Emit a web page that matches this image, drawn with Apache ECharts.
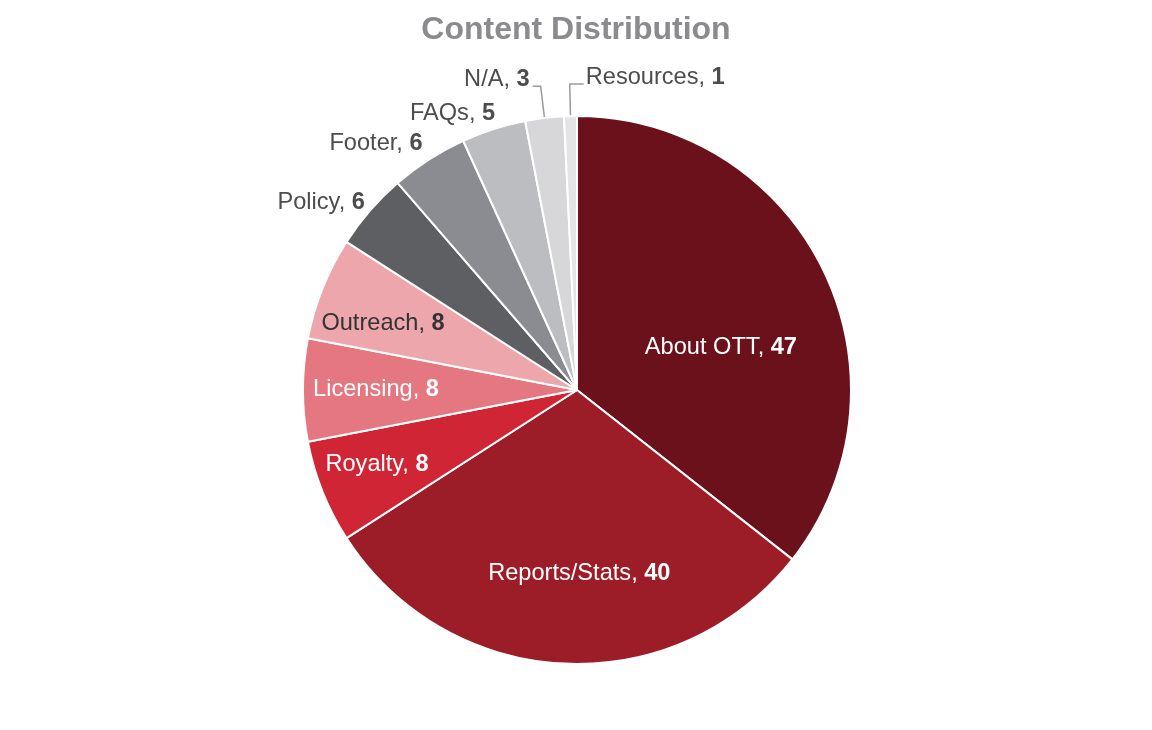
<!DOCTYPE html>
<html>
<head>
<meta charset="utf-8">
<script src="https://cdn.jsdelivr.net/npm/echarts@6/dist/echarts.min.js"></script>
<style>
  html, body { margin: 0; padding: 0; background: #fff; }
  #chart { width: 1152px; height: 730px; }
</style>
</head>
<body>
<div id="chart"></div>
<script>
var categories = ['About OTT', 'Reports/Stats', 'Royalty', 'Licensing', 'Outreach',
                  'Policy', 'Footer', 'FAQs', 'N/A', 'Resources'];
var values = [47, 40, 8, 8, 8, 6, 6, 5, 3, 1];
var colors = ['#6a111c', '#9c1c28', '#d02535', '#e47780', '#eda6ab',
              '#5e5f63', '#8b8c91', '#bcbdc1', '#d7d7d9', '#e4e4e6'];

var chart = echarts.init(document.getElementById('chart'));
var FONT = 'Liberation Sans, Arial, Helvetica, sans-serif';
var FS = 23.6;

// label nudges per slice (style only)
var insideOffsets = {
    'About OTT': [18, 19],
    'Reports/Stats': [9, 44],
    'Royalty': [-70, 22],
    'Licensing': [-61, -1],
    'Outreach': [-64, -14]
};
var outsideOffsets = {
    'Policy': [6, -3],
    'Footer': [3, -9],
    'FAQs': [9, -8]
};

var data = categories.map(function (name, i) {
    var item = { name: name, value: values[i], itemStyle: { color: colors[i] } };
    if (insideOffsets[name]) {
        item.label = {
            position: 'inside',
            offset: insideOffsets[name],
            color: name === 'Outreach' ? '#333333' : '#ffffff'
        };
        item.labelLine = { show: false };
    } else if (outsideOffsets[name]) {
        item.label = { position: 'outside', offset: outsideOffsets[name], color: '#4d4d4d' };
        item.labelLine = { show: false, length: 8, length2: 0 };
    } else {
        item.label = { position: 'outside', color: '#4d4d4d' };
        item.labelLine = { show: true, length: 32, length2: 9 };
    }
    return item;
});

var option = {
    backgroundColor: '#ffffff',
    animation: false,
    title: {
        text: 'Content Distribution',
        left: 'center',
        top: 9,
        textStyle: { fontFamily: FONT, fontSize: 32, fontWeight: 'bold', color: '#8a8a8f' }
    },
    series: [{
        type: 'pie',
        center: [577, 390],
        radius: [0, 274],
        startAngle: 90,
        clockwise: true,
        avoidLabelOverlap: false,
        itemStyle: { borderColor: '#ffffff', borderWidth: 2 },
        label: {
            fontFamily: FONT,
            fontSize: FS,
            formatter: '{b}, {v|{c}}',
            rich: { v: { fontFamily: FONT, fontSize: FS, fontWeight: 'bold' } }
        },
        labelLine: { lineStyle: { color: '#9a9a9a', width: 1.5 } },
        labelLayout: function (params) {
            // small slices: text sits just above the end of its leader line;
            // Resources goes to the right of its line
            if ((params.dataIndex === 8 || params.dataIndex === 9) && params.labelLinePoints) {
                var p = params.labelLinePoints;
                var elbow = [p[1][0], p[1][1]];
                var right = params.dataIndex === 9;
                var end = [elbow[0] + (right ? 14 : -8), elbow[1]];
                return {
                    x: end[0] + (right ? 2 : -3),
                    y: end[1] - 7,
                    align: right ? 'left' : 'right',
                    verticalAlign: 'middle',
                    labelLinePoints: [p[0], elbow, end]
                };
            }
        },
        data: data
    }]
};

chart.setOption(option);
</script>
</body>
</html>
